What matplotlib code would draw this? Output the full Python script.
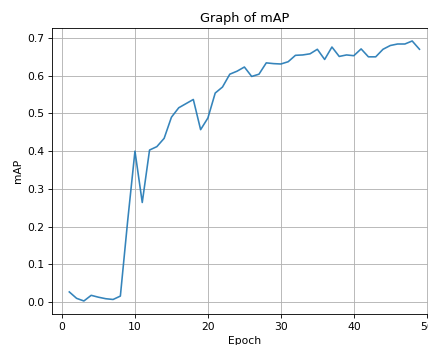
import matplotlib
matplotlib.use("Agg")
import matplotlib.pyplot as plt

epochs = list(range(1, 50))
map_values = [0.027, 0.010, 0.003, 0.018, 0.013, 0.009, 0.007, 0.016, 0.215, 0.400,
              0.264, 0.403, 0.412, 0.434, 0.490, 0.515, 0.526, 0.537, 0.457, 0.488,
              0.554, 0.570, 0.604, 0.612, 0.623, 0.598, 0.604, 0.634, 0.632, 0.631,
              0.637, 0.654, 0.655, 0.658, 0.670, 0.643, 0.676, 0.651, 0.655, 0.653,
              0.671, 0.650, 0.650, 0.670, 0.680, 0.684, 0.684, 0.692, 0.670]

title = "Graph of mAP"
xlabel = "Epoch"
ylabel = "mAP"

s = 0.776
plt.rcParams['font.size'] = 10 * s

fig = plt.figure(figsize=(4.28, 3.45), dpi=100)
ax = fig.add_axes([0.121, 0.0899, 0.9, 0.829])
ax.plot(epochs, map_values, color="#1f77b4", linewidth=1.5 * s, alpha=0.9)
ax.set_title(title, fontsize=12 * s, pad=6 * s)
ax.set_xlabel(xlabel, labelpad=4 * s)
ax.set_ylabel(ylabel, labelpad=4 * s)
ax.set_xticks([0, 10, 20, 30, 40, 50])
ax.set_yticks([0.0, 0.1, 0.2, 0.3, 0.4, 0.5, 0.6, 0.7])
ax.grid(True, linewidth=0.8 * s)
ax.tick_params(width=0.8 * s, length=3.5 * s, pad=3.5 * s)
for sp in ax.spines.values():
    sp.set_linewidth(0.8 * s)

fig.savefig("out.png", dpi=100)
